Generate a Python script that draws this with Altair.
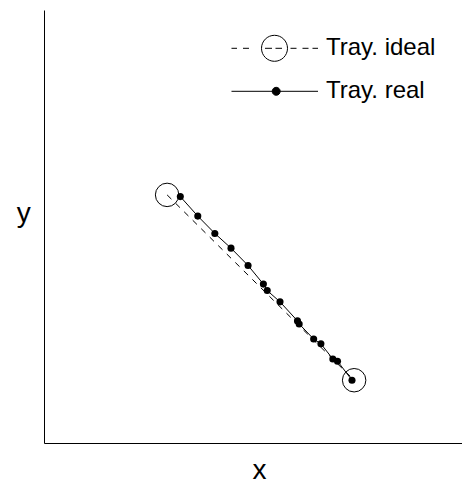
import altair as alt
import pandas as pd

# Ideal trajectory (start and end points)
ideal_x = [2.89, 7.28]
ideal_y = [5.73, 1.45]

# Real trajectory
real_x = [3.20, 3.61, 4.01, 4.39, 4.79, 5.15, 5.24, 5.54, 5.95, 5.99, 6.33, 6.50, 6.78, 6.89, 7.23]
real_y = [5.69, 5.24, 4.84, 4.50, 4.10, 3.67, 3.52, 3.26, 2.82, 2.75, 2.40, 2.29, 1.94, 1.89, 1.45]

series_names = ["Tray. ideal", "Tray. real"]

ideal_df = pd.DataFrame({"x": ideal_x, "y": ideal_y, "i": range(len(ideal_x))})
real_df = pd.DataFrame({"x": real_x, "y": real_y, "i": range(len(real_x))})
legend_df = pd.DataFrame({"serie": series_names})

FONT = "Liberation Sans"

xs = alt.Scale(domain=[0, 9.812], nice=False, zero=False)
ys = alt.Scale(domain=[0, 10], nice=False, zero=False)

x_axis = alt.Axis(labels=False, ticks=False, grid=False, domainColor="black", domainWidth=1,
                  title="x", titleFont=FONT, titleFontSize=28, titleFontWeight="normal",
                  titleColor="black", titleX=215, titleY=35, titleAlign="center",
                  titleBaseline="alphabetic", titleAnchor="middle")
y_axis = alt.Axis(labels=False, ticks=False, grid=False, domainColor="black", domainWidth=1,
                  title="y", titleFont=FONT, titleFontSize=28, titleFontWeight="normal",
                  titleColor="black", titleAngle=0, titleX=-20.7, titleY=211.5,
                  titleAlign="center", titleBaseline="alphabetic")

ideal_line = alt.Chart(ideal_df).mark_line(color="black", strokeWidth=1, strokeDash=[6, 6]).encode(
    x=alt.X("x:Q", scale=xs, axis=x_axis),
    y=alt.Y("y:Q", scale=ys, axis=y_axis),
    order="i:Q",
)
ideal_pts = alt.Chart(ideal_df).mark_point(shape="circle", filled=False, color="black",
                                           strokeWidth=1, size=550, opacity=1).encode(
    x=alt.X("x:Q", scale=xs), y=alt.Y("y:Q", scale=ys)
)
real_line = alt.Chart(real_df).mark_line(color="black", strokeWidth=1).encode(
    x=alt.X("x:Q", scale=xs), y=alt.Y("y:Q", scale=ys), order="i:Q"
)
real_pts = alt.Chart(real_df).mark_point(shape="circle", filled=True, color="black",
                                         size=50, opacity=1).encode(
    x=alt.X("x:Q", scale=xs), y=alt.Y("y:Q", scale=ys)
)

# legend symbol paths (unit box, scaled by sqrt(size)/2 = 45 px)
def u(v):
    return f"{v/45:.4f}"

ideal_segs = [(-43, -37.5), (-31.5, -25.5), (-9.5, -2.5), (1, 7.5), (16, 22), (28, 34), (38, 43.5)]
ideal_path = "".join(f"M{u(a)},0L{u(b)},0" for a, b in ideal_segs)
ideal_path += f"M{u(-13)},0A{u(13)},{u(13)} 0 1,0 {u(13)},0A{u(13)},{u(13)} 0 1,0 {u(-13)},0"
real_path = f"M{u(-43)},0L{u(43.5)},0"
real_path += f"M{u(-2.3)},0A{u(4)},{u(4)} 0 1,0 {u(5.7)},0A{u(4)},{u(4)} 0 1,0 {u(-2.3)},0"

leg = alt.Legend(title=None, orient="none", legendX=185, legendY=19.3,
                 padding=0, symbolSize=8100, clipHeight=38, rowPadding=5,
                 labelOffset=6, labelFont=FONT, labelFontSize=24,
                 labelColor="black", labelLimit=400,
                 symbolStrokeColor="black", symbolStrokeWidth=1, symbolOpacity=1)

legend_layer = alt.Chart(legend_df).mark_point(strokeWidth=1, opacity=1).encode(
    shape=alt.Shape("serie:N", scale=alt.Scale(domain=series_names, range=[ideal_path, real_path]),
                    legend=leg),
    fill=alt.Fill("serie:N", scale=alt.Scale(domain=series_names, range=["transparent", "black"]),
                  legend=leg),
    stroke=alt.Stroke("serie:N", scale=alt.Scale(domain=series_names, range=["black", "black"]),
                      legend=leg),
).transform_filter("false")

chart = alt.layer(ideal_line, real_line, ideal_pts, real_pts, legend_layer).properties(
    width=418, height=433,
    autosize=alt.AutoSizeParams(type="none"),
    padding={"left": 36, "top": 2, "right": 0, "bottom": 41},
    background="white",
).configure_view(stroke=None)

chart.save("out.html", embed_options={"renderer": "svg", "actions": False})
